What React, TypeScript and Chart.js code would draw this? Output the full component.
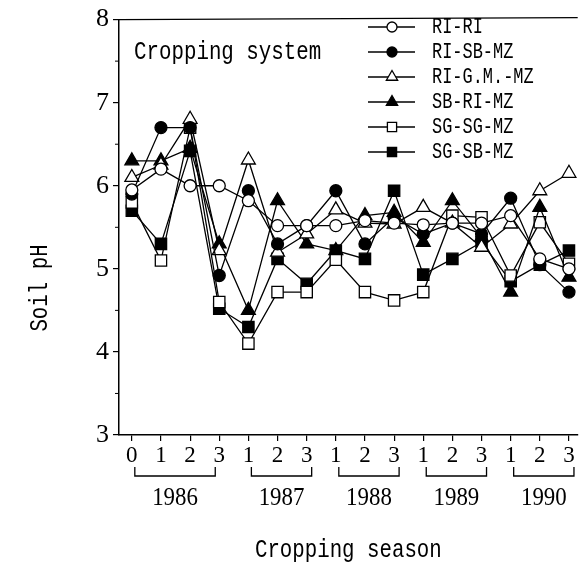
import React, { useEffect, useRef } from 'react';
import { Chart, registerables } from 'chart.js';

Chart.register(...registerables);

// ---- data ----
const seasonLabels = ['0', '1', '2', '3', '1', '2', '3', '1', '2', '3', '1', '2', '3', '1', '2', '3'];
const yearLabels = ['1986', '1987', '1988', '1989', '1990'];
const yearFirstIdx = [0, 4, 7, 10, 13];
const yearLastIdx = [3, 6, 9, 12, 15];
const yTickValues = [3, 4, 5, 6, 7, 8];
const seriesNames = ['RI-RI', 'RI-SB-MZ', 'RI-G.M.-MZ', 'SB-RI-MZ', 'SG-SG-MZ', 'SG-SB-MZ'];

const riRi = [5.95, 6.2, 6.0, 6.0, 5.82, 5.52, 5.52, 5.52, 5.58, 5.55, 5.53, 5.55, 5.55, 5.64, 5.12, 5.0];
const riSbMz = [5.9, 6.7, 6.7, 4.92, 5.94, 5.3, 5.52, 5.94, 5.3, 5.62, 5.42, 5.55, 5.42, 5.85, 5.05, 4.72];
const riGmMz = [6.1, 6.25, 6.8, 5.22, 6.31, 5.2, 5.42, 5.71, 5.55, 5.54, 5.74, 5.55, 5.26, 5.54, 5.94, 6.15];
const sbRiMz = [6.3, 6.3, 6.45, 5.3, 4.5, 5.82, 5.3, 5.22, 5.64, 5.68, 5.32, 5.82, 5.38, 4.72, 5.74, 4.9];
const sgSgMz = [5.8, 5.1, 6.7, 4.6, 4.1, 4.72, 4.72, 5.11, 4.72, 4.62, 4.72, 5.64, 5.62, 4.92, 5.56, 5.06];
const sgSbMz = [5.7, 5.3, 6.42, 4.52, 4.3, 5.12, 4.82, 5.22, 5.12, 5.94, 4.93, 5.12, 5.32, 4.85, 5.05, 5.22];

const seriesValues = [riRi, riSbMz, riGmMz, sbRiMz, sgSgMz, sgSbMz];

// ---- styles ----
const markerShapes = ['circle', 'circle', 'triangle', 'triangle', 'rect', 'rect'];
const markerFilled = [false, true, false, true, false, true];
const markerRadius: Record<string, number> = { circle: 6, triangle: 8, rect: 8 };

function drawMarker(ctx: CanvasRenderingContext2D, shape: string, filled: boolean, x: number, y: number, r: number) {
  ctx.save();
  ctx.beginPath();
  if (shape === 'circle') {
    ctx.arc(x, y, r, 0, Math.PI * 2);
  } else if (shape === 'triangle') {
    ctx.moveTo(x, y - r);
    ctx.lineTo(x + r * 0.87, y + r * 0.5);
    ctx.lineTo(x - r * 0.87, y + r * 0.5);
    ctx.closePath();
  } else {
    const s = r * Math.SQRT1_2;
    ctx.rect(x - s, y - s, 2 * s, 2 * s);
  }
  ctx.fillStyle = filled ? '#000' : '#fff';
  ctx.fill();
  ctx.lineWidth = 1.3;
  ctx.strokeStyle = '#000';
  ctx.stroke();
  ctx.restore();
}

function drawText(
  ctx: CanvasRenderingContext2D,
  text: string,
  x: number,
  y: number,
  font: string,
  sx: number,
  align: CanvasTextAlign,
  rotate = 0
) {
  ctx.save();
  ctx.translate(x, y);
  if (rotate) ctx.rotate(rotate);
  ctx.scale(sx, 1);
  ctx.font = font;
  ctx.fillStyle = '#000';
  ctx.textAlign = align;
  ctx.textBaseline = 'middle';
  ctx.fillText(text, 0, 0);
  ctx.restore();
}

const decorPlugin = {
  id: 'decor',
  afterDraw(chart: any) {
    const ctx: CanvasRenderingContext2D = chart.ctx;
    const area = chart.chartArea;
    const xs = chart.scales.x;
    const ys = chart.scales.y;
    ctx.save();
    ctx.strokeStyle = '#000';
    // top frame line
    ctx.lineWidth = 1.3;
    ctx.beginPath();
    ctx.moveTo(area.left, area.top);
    ctx.lineTo(area.right, area.top - 2);
    ctx.stroke();
    // minor y ticks
    ctx.lineWidth = 1;
    for (let v = 3.5; v < 8; v += 1) {
      const py = ys.getPixelForValue(v);
      ctx.beginPath();
      ctx.moveTo(area.left - 4, py);
      ctx.lineTo(area.left, py);
      ctx.stroke();
    }
    // year brackets
    const bTop = area.bottom + 32;
    const bBot = area.bottom + 41;
    ctx.lineWidth = 1.3;
    yearLabels.forEach((lab, i) => {
      const x0 = xs.getPixelForValue(yearFirstIdx[i]) + 3;
      const x1 = yearLastIdx[i] - yearFirstIdx[i] === 3
        ? xs.getPixelForValue(yearLastIdx[i]) - 4
        : xs.getPixelForValue(yearLastIdx[i]) + 5;
      ctx.beginPath();
      ctx.moveTo(x0, bTop);
      ctx.lineTo(x0, bBot);
      ctx.lineTo(x1, bBot);
      ctx.lineTo(x1, bTop);
      ctx.stroke();
      drawText(ctx, lab, (x0 + x1) / 2, area.bottom + 63, '26px "Liberation Serif"', 0.88, 'center');
    });
    // axis titles
    drawText(ctx, 'Cropping season', (area.left + area.right) / 2, 550, '25px "Liberation Mono"', 0.83, 'center');
    drawText(ctx, 'Soil pH', 40, 288, '25px "Liberation Mono"', 0.83, 'center', -Math.PI / 2);
    // inner caption
    drawText(ctx, 'Cropping system', 134, 52, '26px "Liberation Mono"', 0.8, 'left');
    // legend
    seriesNames.forEach((name, i) => {
      const ly = 27 + 25 * i;
      ctx.lineWidth = 1.3;
      ctx.beginPath();
      ctx.moveTo(368, ly);
      ctx.lineTo(415, ly);
      ctx.stroke();
      const shape = markerShapes[i];
      drawMarker(ctx, shape, markerFilled[i], 392, ly, shape === 'circle' ? 5 : 6.5);
      drawText(ctx, name, 432, ly, '22px "Liberation Mono"', 0.77, 'left');
    });
    ctx.restore();
  },
};

export default function App() {
  const ref = useRef<HTMLCanvasElement | null>(null);
  useEffect(() => {
    if (!ref.current) return;
    const datasets = seriesNames.map((name, i) => ({
      label: name,
      data: seriesValues[i].map((v, j) => ({ x: j, y: v })),
      borderColor: '#000',
      borderWidth: 1.3,
      backgroundColor: markerFilled[i] ? '#000' : '#fff',
      pointBackgroundColor: markerFilled[i] ? '#000' : '#fff',
      pointBorderColor: '#000',
      pointBorderWidth: 1.3,
      pointStyle: markerShapes[i],
      pointRadius: markerRadius[markerShapes[i]],
      pointHoverRadius: markerRadius[markerShapes[i]],
      tension: 0,
      fill: false,
    }));
    const chart = new Chart(ref.current, {
      type: 'line',
      data: { datasets },
      options: {
        animation: false,
        responsive: false,
        maintainAspectRatio: false,
        devicePixelRatio: 1,
        layout: { padding: { top: 13, right: 0, left: 0, bottom: 0 } },
        plugins: { legend: { display: false }, tooltip: { enabled: false } },
        scales: {
          x: {
            type: 'linear',
            min: -0.44,
            max: 15.3,
            afterBuildTicks: (s: any) => {
              s.ticks = seasonLabels.map((_, i) => ({ value: i }));
            },
            afterFit: (s: any) => {
              s.height = 131;
            },
            ticks: {
              autoSkip: false,
              maxRotation: 0,
              padding: 1,
              color: '#000',
              font: { family: 'Liberation Serif', size: 23 },
              callback: (_v: any, i: number) => seasonLabels[i],
            },
            grid: { drawOnChartArea: false, drawTicks: true, tickLength: 6, color: '#000', lineWidth: 1.2 },
            border: { display: true, color: '#000', width: 1.5 },
          },
          y: {
            type: 'linear',
            min: 3,
            max: 8,
            afterBuildTicks: (s: any) => {
              s.ticks = yTickValues.map((v) => ({ value: v }));
            },
            afterFit: (s: any) => {
              s.width = 119;
            },
            ticks: {
              padding: 4,
              color: '#000',
              font: { family: 'Liberation Serif', size: 26 },
            },
            grid: { drawOnChartArea: false, drawTicks: true, tickLength: 6, color: '#000', lineWidth: 1.2 },
            border: { display: true, color: '#000', width: 1.5 },
          },
        },
      },
      plugins: [decorPlugin],
    } as any);
    return () => chart.destroy();
  }, []);
  return (
    <canvas
      ref={ref}
      width={587}
      height={566}
      style={{ position: 'absolute', left: 0, top: 0, width: 587, height: 566, display: 'block', background: '#fff' }}
    />
  );
}
